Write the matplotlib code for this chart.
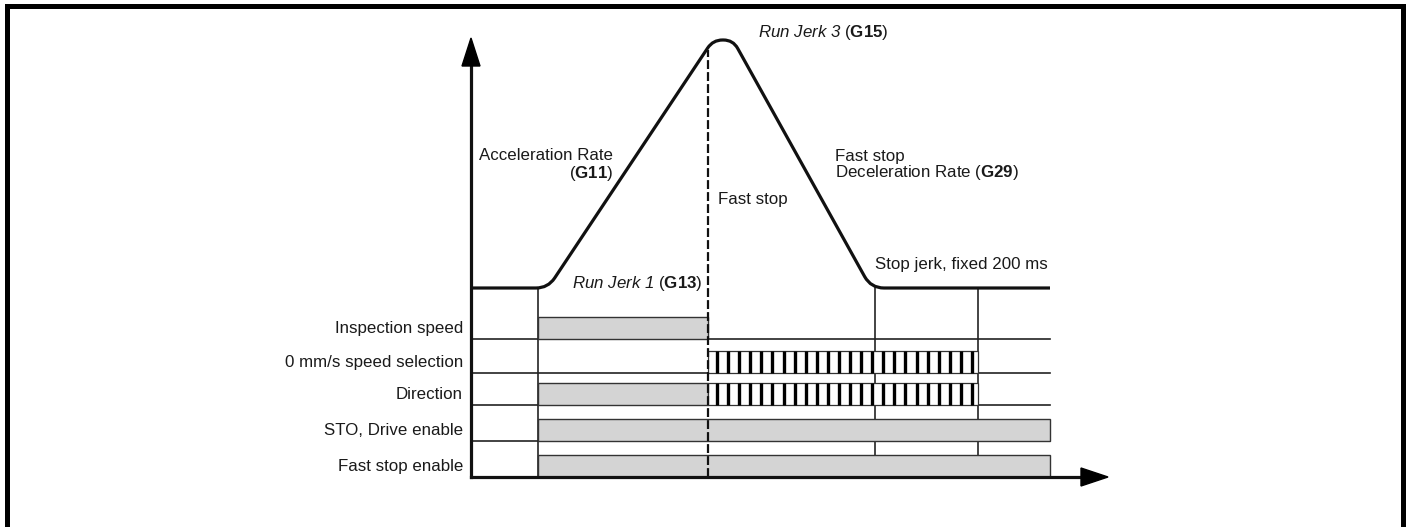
import numpy as np
import matplotlib
matplotlib.use("Agg")
import matplotlib.pyplot as plt
from matplotlib.path import Path
from matplotlib.patches import PathPatch, Rectangle, Polygon

plt.rcParams['font.family'] = ['Liberation Sans', 'DejaVu Sans']
plt.rcParams['mathtext.fontset'] = 'custom'
plt.rcParams['mathtext.rm'] = 'Liberation Sans'
plt.rcParams['mathtext.it'] = 'Liberation Sans:italic'
plt.rcParams['mathtext.bf'] = 'Liberation Sans:bold'
# sans-serif slot used for fully italic runs (digits included)
plt.rcParams['mathtext.sf'] = 'Liberation Sans:italic'

# ---- sequence data (time in diagram units from the axis origin) ----
t_run = 67          # run command / jerk 1 starts
t_fast_stop = 237   # fast stop issued
t_stopped = 404     # stop jerk finished, speed reached 0
t_release = 507     # speed selection / direction released
t_end = 579         # end of drawn time line

# speed profile corners (time, relative speed) before jerk rounding
profile_t = [0, 77, 242, 262, 400, t_end]
profile_v = [0.0, 0.0, 1.0, 1.0, 0.0, 0.0]

signal_labels = ["Inspection speed", "0 mm/s speed selection", "Direction",
                 "STO, Drive enable", "Fast stop enable"]
# active (grey) and don't-care (hatched) intervals of each signal
signal_active = [[(t_run, t_fast_stop)], [], [(t_run, t_fast_stop)],
                 [(t_run, t_end)], [(t_run, t_end)]]
signal_undefined = [[], [(t_fast_stop, t_release)], [(t_fast_stop, t_release)],
                    [], []]

W, H = 1411, 527
fig = plt.figure(figsize=(W / 100, H / 100), dpi=100)

# page frame and free annotations, pixel coordinates
ax_bg = fig.add_axes([0, 0, 1, 1])
ax_bg.set_xlim(0, W)
ax_bg.set_ylim(H, 0)
ax_bg.axis('off')

# timing rows: time along x, rows along y, origin at the axis corner
X0, Y0 = 471, 477
ax = fig.add_axes([0, 0, 1, 1])
ax.set_xlim(-X0, W - X0)
ax.set_ylim(Y0 - H, Y0)
ax.axis('off')
ax.set_facecolor('none')

# speed profile: 0 at the creep level, 1 at the peak
base_px, peak_px = 288, 40
ax_v = fig.add_axes([0, (H - base_px) / H, 1, (base_px - peak_px) / H])
ax_v.set_xlim(-X0, W - X0)
ax_v.set_ylim(0, 1)
ax_v.axis('off')
ax_v.set_facecolor('none')

FS = 12.2
LINE = '#111111'
GREY = '#d4d4d4'

# ---- frame ----
ax_bg.plot([7, 7, 1403, 1403], [H + 5, 6, 6, H + 5], color='black', lw=3.6,
           solid_joinstyle='miter', clip_on=False)

# ---- speed profile with rounded jerk transitions ----
corner_r = [0, 12, 9.5, 9.5, 13, 0]
pts = ax_v.transData.transform(np.column_stack([profile_t, profile_v]))
verts = [pts[0]]
codes = [Path.MOVETO]
for i in range(1, len(pts) - 1):
    p = pts[i]
    r = corner_r[i]
    a = p + (pts[i - 1] - p) / np.linalg.norm(pts[i - 1] - p) * r
    b = p + (pts[i + 1] - p) / np.linalg.norm(pts[i + 1] - p) * r
    verts += [a, p, b]
    codes += [Path.LINETO, Path.CURVE3, Path.CURVE3]
verts.append(pts[-1])
codes.append(Path.LINETO)
verts = ax_v.transData.inverted().transform(np.array(verts))
ax_v.add_patch(PathPatch(Path(verts, codes), fill=False, lw=2.3, color=LINE,
                         capstyle='butt', joinstyle='round', clip_on=False,
                         zorder=5))

# creep level in row coordinates
to_rows = ax.transData.inverted()
y_base = to_rows.transform(ax_v.transData.transform((0, 0)))[1]

# ---- row geometry ----
row_bottom = [138, 104, 72, 36, 0]
band_h = 22.5

# event markers
for t in (t_run, t_stopped, t_release):
    ax.plot([t, t], [0, y_base], color=LINE, lw=1.1, zorder=1)

# row separators
for yb in row_bottom[:-1]:
    ax.plot([0, t_end], [yb, yb], color='#222222', lw=1.2, zorder=2)

for i, lab in enumerate(signal_labels):
    lo = row_bottom[i]
    hi = lo + band_h
    for t0, t1 in signal_active[i]:
        ax.add_patch(Rectangle((t0, lo), t1 - t0, hi - lo, facecolor=GREY,
                               edgecolor='#333333', lw=1.0, zorder=3))
    for t0, t1 in signal_undefined[i]:
        ax.add_patch(Rectangle((t0, lo), t1 - t0, hi - lo, facecolor='white',
                               edgecolor='#333333', lw=0.9, zorder=3))
        for xs in np.linspace(t0 + 9, t1 - 6, 24):
            ax.plot([xs, xs], [lo, hi], color='black', lw=2.4,
                    solid_capstyle='butt', zorder=4)
    ax.text(-8, (lo + hi) / 2 - 5, lab, ha='right', va='baseline',
            fontsize=FS, color='#1a1a1a')

# fast stop marker from the axis up to the speed curve
v_fs = np.interp(t_fast_stop, profile_t, profile_v)
y_fs = to_rows.transform(ax_v.transData.transform((t_fast_stop, v_fs)))[1]
ax.plot([t_fast_stop, t_fast_stop], [0, y_fs - 2], color=LINE, lw=1.6,
        linestyle=(0, (4.0, 1.4)), zorder=6)

# ---- axes with arrow heads ----
ax.plot([0, 0], [0, 413], color=LINE, lw=2.3, solid_capstyle='projecting',
        zorder=6)
ax.plot([0, 612], [0, 0], color=LINE, lw=2.3, solid_capstyle='projecting',
        zorder=6)
ax.add_patch(Polygon([(-9, 411), (9, 411), (0, 439)], closed=True,
                     color='black', zorder=7))
ax.add_patch(Polygon([(610, -9), (610, 9), (637, 0)], closed=True,
                     color='black', zorder=7))

# ---- annotations ----
tc = '#1a1a1a'
ax_bg.text(613, 160, "Acceleration Rate", ha='right', va='baseline',
           fontsize=FS, color=tc)
ax_bg.text(613, 178, r"($\mathbf{G11}$)", ha='right', va='baseline',
           fontsize=FS, color=tc)
ax_bg.text(718, 204, "Fast stop", ha='left', va='baseline', fontsize=FS,
           color=tc)
ax_bg.text(572, 288, r"$\mathsf{Run\ Jerk\ 1}$ ($\mathbf{G13}$)", ha='left',
           va='baseline', fontsize=FS, color=tc)
ax_bg.text(758, 37, r"$\mathsf{Run\ Jerk\ 3}$ ($\mathbf{G15}$)", ha='left',
           va='baseline', fontsize=FS, color=tc)
ax_bg.text(835, 161, "Fast stop", ha='left', va='baseline', fontsize=FS,
           color=tc)
ax_bg.text(835, 177, r"Deceleration Rate ($\mathbf{G29}$)", ha='left',
           va='baseline', fontsize=FS, color=tc)
ax_bg.text(875, 269, "Stop jerk, fixed 200 ms", ha='left', va='baseline',
           fontsize=FS, color=tc)

fig.savefig("out.png", dpi=100)
